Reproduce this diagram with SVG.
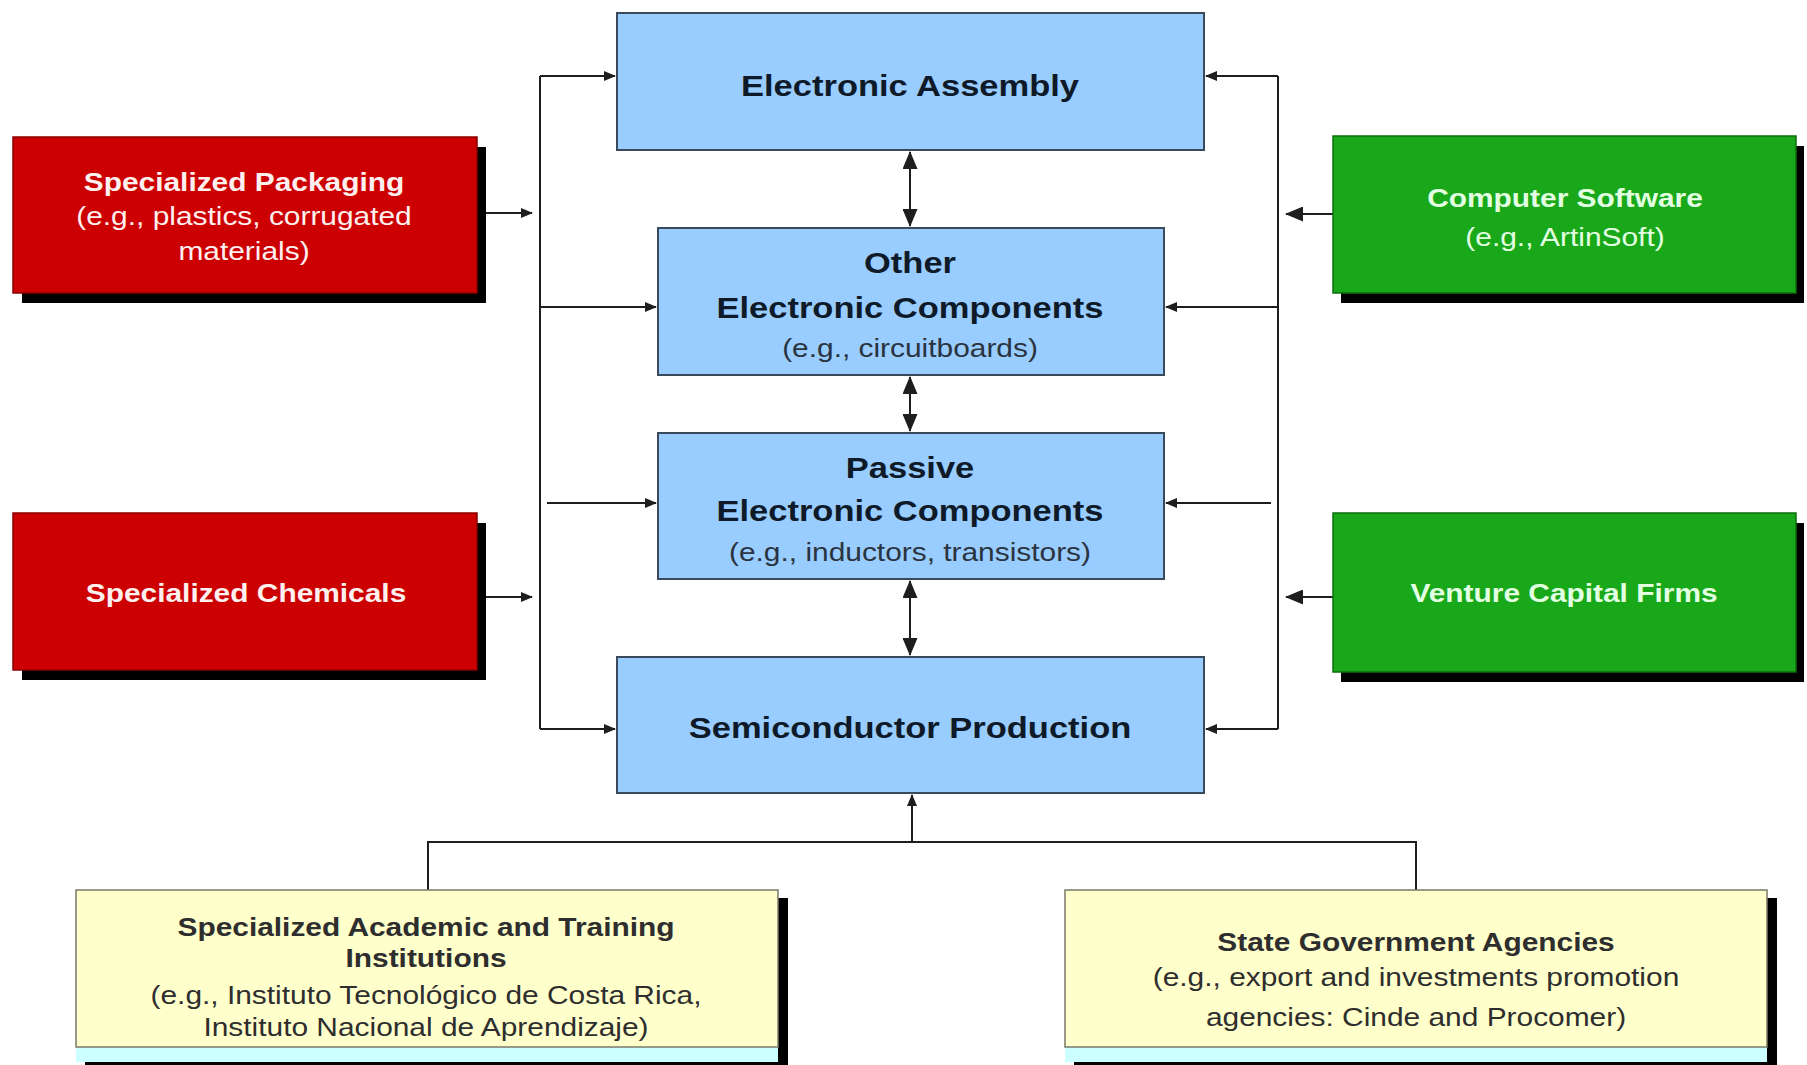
<svg xmlns="http://www.w3.org/2000/svg" width="1807" height="1065" viewBox="0 0 1807 1065">
<defs>
<style>
.bg{fill:#ffffff}
.blue{fill:#99ccff;stroke:#3a4a5a;stroke-width:2}
.red{fill:#cc0000;stroke:#8a0000;stroke-width:1.5}
.green{fill:#19a819;stroke:#0e6e0e;stroke-width:1.5}
.yellow{fill:#ffffcc;stroke:#7a7a6a;stroke-width:1.5}
.cyan{fill:#ccffff}
.shadow{fill:#000000}
text{font-family:"Liberation Sans",Arial,Helvetica,sans-serif;text-anchor:middle}
.bt{font-weight:bold;font-size:30px;fill:#0e1a28}
.bs{font-size:26px;fill:#2a3440}
.rt{font-weight:bold;font-size:26px;fill:#fff0f0}
.rs{font-size:26px;fill:#fff0f0}
.gt{font-weight:bold;font-size:26px;fill:#e2ffe2}
.gs{font-size:26px;fill:#e2ffe2}
.yt{font-weight:bold;font-size:26px;fill:#2e2e2e}
.ys{font-size:26px;fill:#2e2e2e}
.ln{fill:none;stroke:#1e1e1e;stroke-width:2}
</style>
<marker id="ah" markerUnits="userSpaceOnUse" markerWidth="12" markerHeight="10" refX="11" refY="5" orient="auto-start-reverse">
<path d="M0,0 L12,5 L0,10 Z" fill="#1e1e1e"/>
</marker>
<marker id="ahb" markerUnits="userSpaceOnUse" markerWidth="18" markerHeight="15" refX="17" refY="7.5" orient="auto-start-reverse">
<path d="M0,0 L18,7.5 L0,15 Z" fill="#1e1e1e"/>
</marker>
</defs>
<rect class="bg" x="0" y="0" width="1807" height="1065"/>

<g id="connectors">
<path class="ln" d="M540,76 V729"/>
<path class="ln" d="M540,76 H615" marker-end="url(#ah)"/>
<path class="ln" d="M540,729 H615" marker-end="url(#ah)"/>
<path class="ln" d="M540,307 H656" marker-end="url(#ah)"/>
<path class="ln" d="M547,503 H656" marker-end="url(#ah)"/>
<path class="ln" d="M1278,76 V729"/>
<path class="ln" d="M1278,76 H1206" marker-end="url(#ah)"/>
<path class="ln" d="M1278,729 H1206" marker-end="url(#ah)"/>
<path class="ln" d="M1278,307 H1166" marker-end="url(#ah)"/>
<path class="ln" d="M1271,503 H1166" marker-end="url(#ah)"/>
<path class="ln" d="M477,213 H532" marker-end="url(#ah)"/>
<path class="ln" d="M477,597 H532" marker-end="url(#ah)"/>
<path class="ln" d="M1333,214 H1286" marker-end="url(#ahb)"/>
<path class="ln" d="M1333,597 H1286" marker-end="url(#ahb)"/>
<path class="ln" d="M910,152 V226" marker-start="url(#ahb)" marker-end="url(#ahb)"/>
<path class="ln" d="M910,377 V431" marker-start="url(#ahb)" marker-end="url(#ahb)"/>
<path class="ln" d="M910,581 V655" marker-start="url(#ahb)" marker-end="url(#ahb)"/>
<path class="ln" d="M428,890 V842 H1416 V890"/>
<path class="ln" d="M912,842 V795" marker-end="url(#ah)"/>
</g>

<g id="electronic-assembly">
<rect class="blue" x="617" y="13" width="587" height="137"/>
<text class="bt" transform="translate(910,96) scale(1.15,1)">Electronic Assembly</text>
</g>

<g id="other-electronic-components">
<rect class="blue" x="658" y="228" width="506" height="147"/>
<text class="bt" transform="translate(910,273) scale(1.15,1)">Other</text>
<text class="bt" transform="translate(910,318) scale(1.15,1)">Electronic Components</text>
<text class="bs" transform="translate(910,357) scale(1.15,1)">(e.g., circuitboards)</text>
</g>

<g id="passive-electronic-components">
<rect class="blue" x="658" y="433" width="506" height="146"/>
<text class="bt" transform="translate(910,478) scale(1.15,1)">Passive</text>
<text class="bt" transform="translate(910,521) scale(1.15,1)">Electronic Components</text>
<text class="bs" transform="translate(910,561) scale(1.15,1)">(e.g., inductors, transistors)</text>
</g>

<g id="semiconductor-production">
<rect class="blue" x="617" y="657" width="587" height="136"/>
<text class="bt" transform="translate(910,738) scale(1.15,1)">Semiconductor Production</text>
</g>

<g id="specialized-packaging">
<rect class="shadow" x="22" y="147" width="464" height="156"/>
<rect class="red" x="13" y="137" width="464" height="156"/>
<text class="rt" transform="translate(244,191) scale(1.15,1)">Specialized Packaging</text>
<text class="rs" transform="translate(244,225) scale(1.15,1)">(e.g., plastics, corrugated</text>
<text class="rs" transform="translate(244,260) scale(1.15,1)">materials)</text>
</g>

<g id="specialized-chemicals">
<rect class="shadow" x="22" y="523" width="464" height="157"/>
<rect class="red" x="13" y="513" width="464" height="157"/>
<text class="rt" transform="translate(246,602) scale(1.15,1)">Specialized Chemicals</text>
</g>

<g id="computer-software">
<rect class="shadow" x="1341" y="146" width="463" height="157"/>
<rect class="green" x="1333" y="136" width="463" height="157"/>
<text class="gt" transform="translate(1565,207) scale(1.15,1)">Computer Software</text>
<text class="gs" transform="translate(1565,246) scale(1.15,1)">(e.g., ArtinSoft)</text>
</g>

<g id="venture-capital-firms">
<rect class="shadow" x="1341" y="523" width="463" height="159"/>
<rect class="green" x="1333" y="513" width="463" height="159"/>
<text class="gt" transform="translate(1564,602) scale(1.15,1)">Venture Capital Firms</text>
</g>

<g id="academic-institutions">
<rect class="shadow" x="85" y="898" width="703" height="170"/>
<rect class="cyan" x="76" y="890" width="702" height="172"/>
<rect class="yellow" x="76" y="890" width="702" height="157"/>
<text class="yt" transform="translate(426,936) scale(1.15,1)">Specialized Academic and Training</text>
<text class="yt" transform="translate(426,967) scale(1.15,1)">Institutions</text>
<text class="ys" transform="translate(426,1004) scale(1.15,1)">(e.g., Instituto Tecnológico de Costa Rica,</text>
<text class="ys" transform="translate(426,1036) scale(1.15,1)">Instituto Nacional de Aprendizaje)</text>
</g>

<g id="state-government-agencies">
<rect class="shadow" x="1074" y="898" width="703" height="170"/>
<rect class="cyan" x="1065" y="890" width="702" height="172"/>
<rect class="yellow" x="1065" y="890" width="702" height="157"/>
<text class="yt" transform="translate(1416,951) scale(1.15,1)">State Government Agencies</text>
<text class="ys" transform="translate(1416,986) scale(1.15,1)">(e.g., export and investments promotion</text>
<text class="ys" transform="translate(1416,1026) scale(1.15,1)">agencies: Cinde and Procomer)</text>
</g>
</svg>
